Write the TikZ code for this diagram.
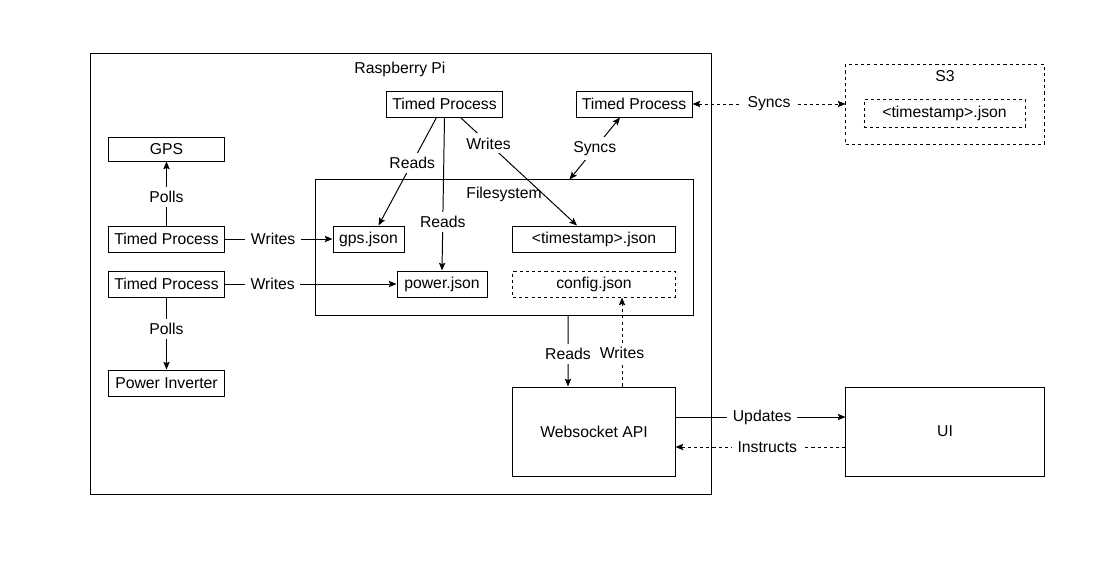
\documentclass[tikz,border=0pt]{standalone}
\usepackage{fontspec}
\setmainfont{Liberation Sans}
\usetikzlibrary{arrows.meta,calc}
\tikzset{
  box/.style={draw,line width=0.7pt,inner sep=0pt,minimum height=0.65cm,font=\fontsize{11.2}{13}\selectfont},
  dbox/.style={box,dash pattern=on 2.2pt off 2.2pt},
  ttl/.style={inner sep=2pt,font=\fontsize{11.2}{13}\selectfont},
  lbl/.style={fill=white,inner xsep=4pt,inner ysep=3pt,font=\fontsize{11.2}{13}\selectfont},
  arr/.style={line width=0.7pt,-{Stealth[length=5.5pt,width=4.5pt,inset=1pt]}},
  darr/.style={arr,dash pattern=on 2.2pt off 2.2pt},
}
\begin{document}
\begin{tikzpicture}[x=0.025cm,y=-0.025cm]
\useasboundingbox (0,0) rectangle (1116,567);
\node[box,minimum width=15.5cm,minimum height=11cm] (rpi) at (401,274) {};
\node[ttl] (rpilabel) at (400,69) {Raspberry Pi};
\node[box,minimum width=9.425cm,minimum height=3.375cm] (fs) at (504.5,247.5) {};
\node[ttl] (fslabel) at (504,194) {Filesystem};
\node[dbox,minimum width=4.95cm,minimum height=2cm] (s3) at (945,104) {};
\node[ttl] (s3label) at (945,76) {S3};
\node[dbox,minimum width=4.025cm,minimum height=0.7cm] (s3file) at (944.5,113) {<timestamp>.json};
\node[box,minimum width=2.875cm] (tpfs) at (444.5,104) {Timed Process};
\node[box,minimum width=2.9cm] (tpsync) at (634,104) {Timed Process};
\node[box,minimum width=2.875cm,minimum height=0.6cm] (gps) at (166.5,149) {GPS};
\node[box,minimum width=2.875cm] (tpgps) at (166.5,239) {Timed Process};
\node[box,minimum width=2.875cm] (tppower) at (166.5,284) {Timed Process};
\node[box,minimum width=2.875cm] (inverter) at (166.5,383) {Power Inverter};
\node[box,minimum width=1.775cm] (gpsjson) at (368.5,239) {gps.json};
\node[box,minimum width=2.25cm] (powerjson) at (442,284) {power.json};
\node[box,minimum width=4.05cm] (tsjson) at (594,239) {<timestamp>.json};
\node[dbox,minimum width=4.05cm] (config) at (594,284) {config.json};
\node[box,minimum width=4.05cm,minimum height=2.225cm] (ws) at (594,431.5) {Websocket API};
\node[box,minimum width=4.95cm,minimum height=2.225cm] (ui) at (945,431.5) {UI};
\draw[arr] (tpgps.north) -- node[lbl,pos=0.45] {Polls} (gps.south);
\draw[arr] (tppower.south) -- node[lbl,pos=0.44] {Polls} (inverter.north);
\draw[arr] (tpgps.east) -- node[lbl,pos=0.45] {Writes} (gpsjson.west);
\draw[arr] (tppower.east) -- node[lbl,pos=0.28] {Writes} (powerjson.west);
\draw[arr] ($(tpfs.south)+(-8,0)$) -- node[lbl,pos=0.42] {Reads} ($(gpsjson.north)+(10,0)$);
\draw[arr] (tpfs.south) -- node[lbl,pos=0.68] {Reads} (powerjson.north);
\draw[arr] ($(tpfs.south)+(16,0)$) -- node[lbl,pos=0.24] {Writes} ($(tsjson.north)+(-17,0)$);
\draw[arr,{Stealth[length=5.5pt,width=4.5pt,inset=1pt]}-{Stealth[length=5.5pt,width=4.5pt,inset=1pt]}] ($(fs.north)+(65,0)$) -- node[lbl] {Syncs} ($(tpsync.south)+(-14,0)$);
\draw[darr,{Stealth[length=5.5pt,width=4.5pt,inset=1pt]}-{Stealth[length=5.5pt,width=4.5pt,inset=1pt]}] (tpsync.east) -- node[lbl] {Syncs} (s3.west);
\draw[arr] ($(fs.south)+(63.5,0)$) -- node[lbl,pos=0.54] {Reads} ($(ws.north)+(-26,0)$);
\draw[darr] ($(ws.north)+(28,0)$) -- node[lbl,pos=0.38] {Writes} ($(config.south)+(28,0)$);
\draw[arr] ($(ws.east)+(0,-14.5)$) -- node[lbl,pos=0.51] {Updates} ($(ui.west)+(0,-14.5)$);
\draw[darr] ($(ui.west)+(0,15.5)$) -- node[lbl,pos=0.46] {Instructs} ($(ws.east)+(0,15.5)$);
\end{tikzpicture}
\end{document}
